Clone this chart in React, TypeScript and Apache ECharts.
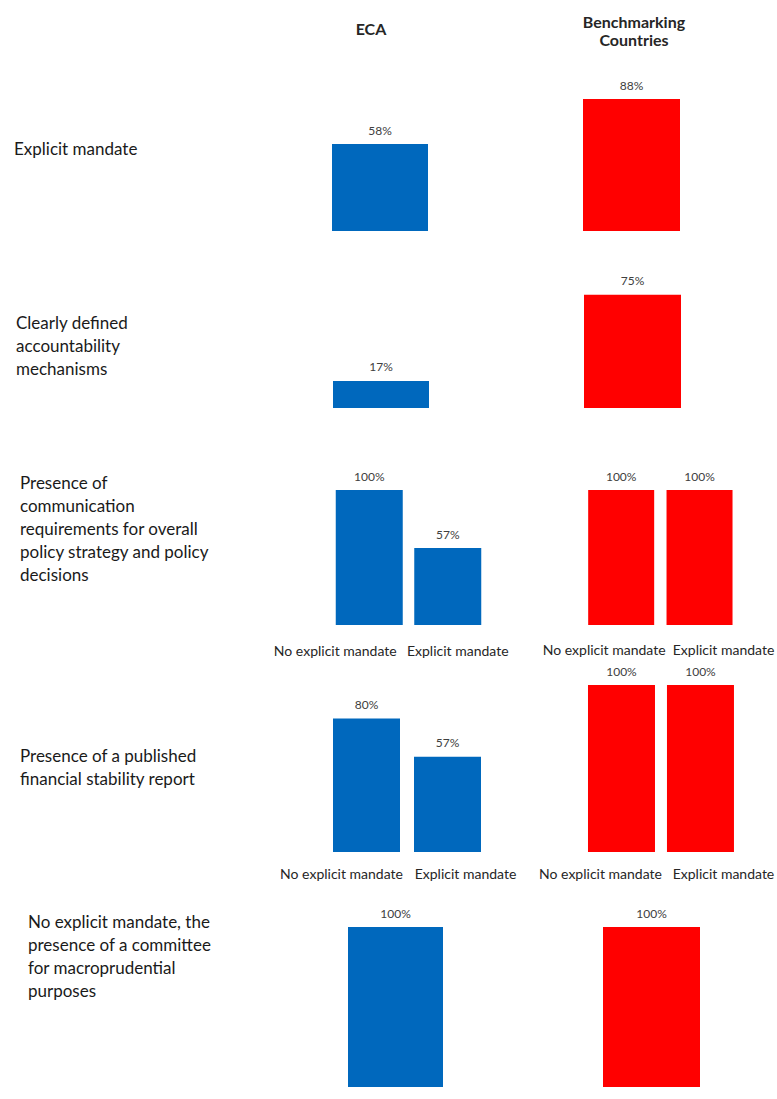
import React, { useEffect, useRef } from "react";
import * as echarts from "echarts";

// ---- Data ----
const columnHeaders = ["ECA", "Benchmarking", "Countries"];
const rowLabels = [
  "Explicit mandate",
  "Clearly defined\naccountability\nmechanisms",
  "Presence of\ncommunication\nrequirements for overall\npolicy strategy and policy\ndecisions",
  "Presence of a published\nfinancial stability report",
  "No explicit mandate, the\npresence of a committee\nfor macroprudential\npurposes",
];
const singleCategory = [""];
const mandateCategories = ["No explicit mandate", "Explicit mandate"];

const ecaExplicit = [58];
const benchExplicit = [88];
const ecaAccountability = [17];
const benchAccountability = [75];
const ecaCommunication = [100, 57];
const benchCommunication = [100, 100];
const ecaStabilityReport = [80, 57];
const benchStabilityReport = [100, 100];
const ecaCommittee = [100];
const benchCommittee = [100];

const BLUE = "#0068BD";
const RED = "#FF0000";
const FONT = "Lato, 'Liberation Sans', sans-serif";

type Panel = {
  cats: string[];
  values: number[];
  color: string;
  left: number;
  width: number;
  baseline: number;
  scale: number; // px per 100%
  barWidth: number;
  labelShift?: number[];
  labelMargin?: number;
};

const panels: Panel[] = [
  { cats: singleCategory, values: ecaExplicit, color: BLUE, left: 330, width: 100, baseline: 231, scale: 150, barWidth: 96 },
  { cats: singleCategory, values: benchExplicit, color: RED, left: 581.5, width: 100, baseline: 231, scale: 150, barWidth: 97 },
  { cats: singleCategory, values: ecaAccountability, color: BLUE, left: 331, width: 100, baseline: 408, scale: 159, barWidth: 96 },
  { cats: singleCategory, values: benchAccountability, color: RED, left: 582.5, width: 100, baseline: 408, scale: 151, barWidth: 97 },
  { cats: mandateCategories, values: ecaCommunication, color: BLUE, left: 330, width: 157, baseline: 625, scale: 135, barWidth: 67, labelShift: [-34, 10], labelMargin: 18 },
  { cats: mandateCategories, values: benchCommunication, color: RED, left: 582, width: 158, baseline: 625, scale: 135, barWidth: 66, labelShift: [-17, 24], labelMargin: 17 },
  { cats: mandateCategories, values: ecaStabilityReport, color: BLUE, left: 326, width: 162, baseline: 852, scale: 167, barWidth: 67, labelShift: [-25, 18], labelMargin: 14 },
  { cats: mandateCategories, values: benchStabilityReport, color: RED, left: 582, width: 159, baseline: 852, scale: 167, barWidth: 67, labelShift: [-21, 23], labelMargin: 14 },
  { cats: singleCategory, values: ecaCommittee, color: BLUE, left: 345.5, width: 100, baseline: 1087, scale: 160, barWidth: 95 },
  { cats: singleCategory, values: benchCommittee, color: RED, left: 601.5, width: 100, baseline: 1087, scale: 160, barWidth: 97 },
];

const rowLabelPos = [
  { x: 14, y: 148 },
  { x: 16, y: 345 },
  { x: 20, y: 528 },
  { x: 20, y: 767 },
  { x: 28, y: 956 },
];

const headerPos = [
  { x: 371, y: 28 },
  { x: 634, y: 21 },
  { x: 634, y: 39 },
];

export default function App() {
  const ref = useRef<HTMLDivElement>(null);
  useEffect(() => {
    if (!ref.current) return;
    const chart = echarts.init(ref.current, null, { renderer: "svg" });
    const grid: any[] = [];
    const xAxis: any[] = [];
    const yAxis: any[] = [];
    const series: any[] = [];
    panels.forEach((p, i) => {
      grid.push({ left: p.left, width: p.width, top: p.baseline - p.scale, height: p.scale });
      const rich: any = {};
      p.cats.forEach((_, k) => {
        const s = p.labelShift ? p.labelShift[k] : 0;
        rich["s" + k] = {
          fontFamily: FONT,
          fontSize: 14,
          color: "#262626",
          padding: s < 0 ? [0, -2 * s, 0, 0] : [0, 0, 0, 2 * s],
        };
      });
      xAxis.push({
        type: "category",
        gridIndex: i,
        data: p.cats,
        axisLine: { show: false },
        axisTick: { show: false },
        axisLabel: {
          show: p.cats.length > 1,
          interval: 0,
          margin: p.labelMargin ?? 10,
          formatter: (v: string, idx: number) => `{s${idx}|${v}}`,
          rich,
        },
      });
      yAxis.push({
        type: "value",
        gridIndex: i,
        min: 0,
        max: 100,
        show: false,
        splitLine: { show: false },
      });
      series.push({
        type: "bar",
        xAxisIndex: i,
        yAxisIndex: i,
        data: p.values,
        barWidth: p.barWidth,
        itemStyle: { color: p.color },
        label: {
          show: true,
          position: "top",
          distance: 8,
          formatter: "{c}%",
          fontFamily: FONT,
          fontSize: 12,
          color: "#404040",
        },
      });
    });

    const graphic: any[] = [
      ...columnHeaders.map((t, i) => ({
        type: "text",
        position: [headerPos[i].x, headerPos[i].y],
        style: {
          text: t,
          fontFamily: FONT,
          fontSize: 16,
          fontWeight: "bold",
          fill: "#262626",
          textAlign: "center",
          textVerticalAlign: "middle",
        },
      })),
      ...rowLabels.map((t, i) => ({
        type: "text",
        position: [rowLabelPos[i].x, rowLabelPos[i].y],
        style: {
          text: t,
          fontFamily: FONT,
          fontSize: 17,
          lineHeight: 23,
          fill: "#1a1a1a",
          textAlign: "left",
          textVerticalAlign: "middle",
        },
      })),
    ];

    chart.setOption({
      animation: false,
      backgroundColor: "#ffffff",
      grid,
      xAxis,
      yAxis,
      series,
      graphic,
    });
    return () => chart.dispose();
  }, []);
  return (
    <div
      ref={ref}
      style={{ position: "absolute", left: 0, top: 0, width: 777, height: 1099 }}
    />
  );
}
